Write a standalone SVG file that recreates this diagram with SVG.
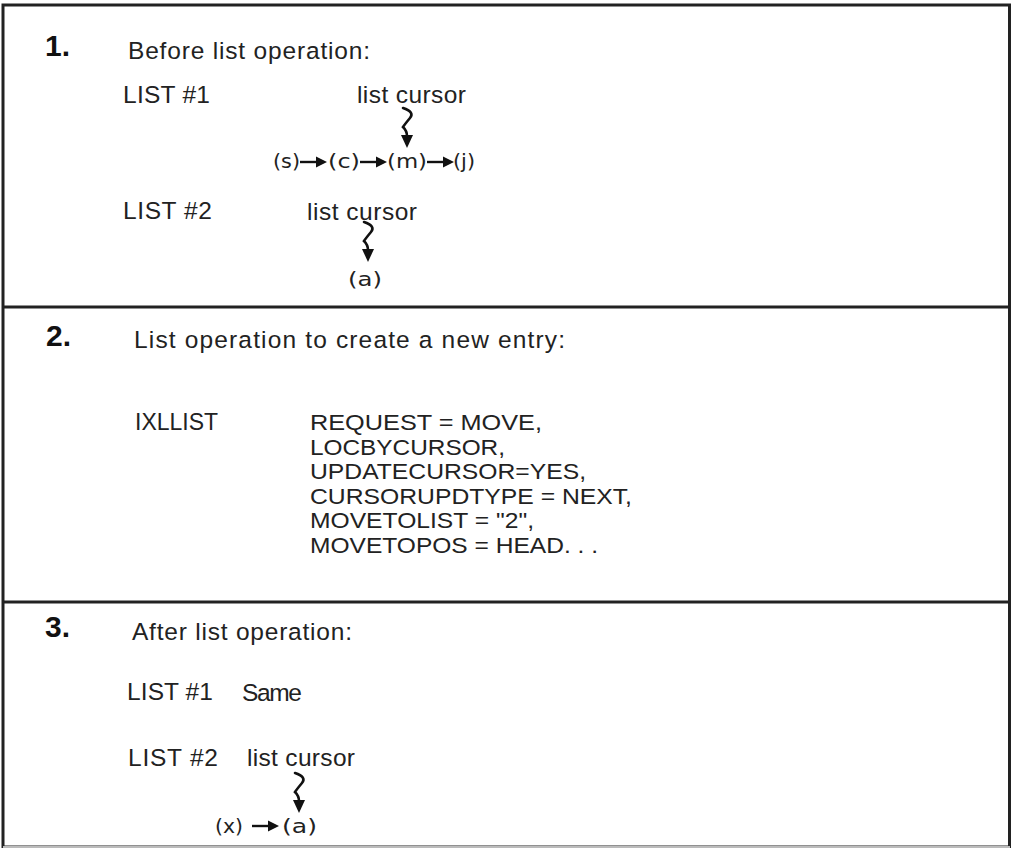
<svg xmlns="http://www.w3.org/2000/svg" width="1012" height="848" viewBox="0 0 1012 848">
<style>
.t{font-family:"Liberation Sans",Arial,sans-serif;font-size:24.5px;fill:#222}
.c{font-family:"Liberation Sans",Arial,sans-serif;font-size:21.8px;fill:#222}
.n{font-family:"Liberation Sans",Arial,sans-serif;font-size:30px;font-weight:bold;fill:#111}
.nd{font-family:"DejaVu Sans","Liberation Sans",sans-serif;font-size:20px;fill:#222}
.sq{fill:none;stroke:#111;stroke-width:2.6;stroke-linecap:round}
.ar{stroke:#111;stroke-width:2.4;fill:none}
.hd{fill:#111}
.frame{fill:none;stroke:#222;stroke-width:3}
</style>
<defs>
<g id="squig">
<path class="sq" d="M-4,-40 Q8,-36 3,-30 T-4,-21 Q0,-17 0,-12"/>
<polygon class="hd" points="-6,-13 6,-13 0,0"/>
</g>
<g id="harrow">
<line class="ar" x1="0" y1="0" x2="18" y2="0"/>
<polygon class="hd" points="16,-5.5 27,0 16,5.5"/>
</g>
</defs>
<g id="frame">
<rect class="frame" x="3" y="5" width="1006.5" height="842"/>
<line x1="3" y1="847" x2="1010" y2="847" stroke="#bbb" stroke-width="2"/>
<line class="frame" x1="3" y1="307" x2="1010" y2="307"/>
<line class="frame" x1="3" y1="602" x2="1010" y2="602"/>
</g>
<g id="panel1">
<text class="n" x="45" y="56">1.</text>
<text class="t" x="128" y="59" textLength="242" lengthAdjust="spacing">Before list operation:</text>
<text class="t" x="123" y="103" textLength="87" lengthAdjust="spacing">LIST #1</text>
<text class="t" x="357" y="103" textLength="109" lengthAdjust="spacing">list cursor</text>
<text class="t" x="123" y="219" textLength="89" lengthAdjust="spacing">LIST #2</text>
<text class="t" x="307" y="220" textLength="110" lengthAdjust="spacing">list cursor</text>
</g>
<g id="node-s"><text class="nd" x="273" y="168" textLength="27" lengthAdjust="spacingAndGlyphs">(s)</text></g>
<g id="node-c"><text class="nd" x="328" y="168" textLength="32" lengthAdjust="spacingAndGlyphs">(c)</text></g>
<g id="node-m"><text class="nd" x="387" y="168" textLength="40" lengthAdjust="spacingAndGlyphs">(m)</text></g>
<g id="node-j"><text class="nd" x="453" y="168" textLength="22" lengthAdjust="spacingAndGlyphs">(j)</text></g>
<g id="node-a1"><text class="nd" x="348" y="286" textLength="34" lengthAdjust="spacingAndGlyphs">(a)</text></g>
<g id="panel2">
<text class="n" x="46" y="346">2.</text>
<text class="t" x="134" y="348" textLength="431" lengthAdjust="spacing">List operation to create a new entry:</text>
<text class="t" x="135" y="430" textLength="83" lengthAdjust="spacingAndGlyphs">IXLLIST</text>
<text class="c" x="310" y="430" textLength="232" lengthAdjust="spacingAndGlyphs">REQUEST = MOVE,</text>
<text class="c" x="310" y="454.6" textLength="195" lengthAdjust="spacingAndGlyphs">LOCBYCURSOR,</text>
<text class="c" x="310" y="479.2" textLength="276" lengthAdjust="spacingAndGlyphs">UPDATECURSOR=YES,</text>
<text class="c" x="310" y="503.8" textLength="322" lengthAdjust="spacingAndGlyphs">CURSORUPDTYPE = NEXT,</text>
<text class="c" x="310" y="528.4" textLength="224" lengthAdjust="spacingAndGlyphs">MOVETOLIST = "2",</text>
<text class="c" x="310" y="553" textLength="288" lengthAdjust="spacingAndGlyphs">MOVETOPOS = HEAD. . .</text>
</g>
<g id="panel3">
<text class="n" x="45" y="637">3.</text>
<text class="t" x="132" y="640" textLength="220" lengthAdjust="spacing">After list operation:</text>
<text class="t" x="127" y="700" textLength="86" lengthAdjust="spacing">LIST #1</text>
<text class="t" x="242" y="701" textLength="60" lengthAdjust="spacing">Same</text>
<text class="t" x="128" y="766" textLength="90" lengthAdjust="spacing">LIST #2</text>
<text class="t" x="247" y="766" textLength="108" lengthAdjust="spacing">list cursor</text>
</g>
<g id="node-x"><text class="nd" x="215" y="833" textLength="28" lengthAdjust="spacingAndGlyphs">(x)</text></g>
<g id="node-a2"><text class="nd" x="282" y="833" textLength="35" lengthAdjust="spacingAndGlyphs">(a)</text></g>
<g id="connectors">
<use href="#squig" x="407" y="148"/>
<use href="#squig" x="368" y="262"/>
<use href="#squig" x="299" y="813"/>
<use href="#harrow" x="300" y="162"/>
<use href="#harrow" x="360" y="162"/>
<use href="#harrow" x="427" y="162"/>
<use href="#harrow" x="252" y="826"/>
</g>
</svg>
